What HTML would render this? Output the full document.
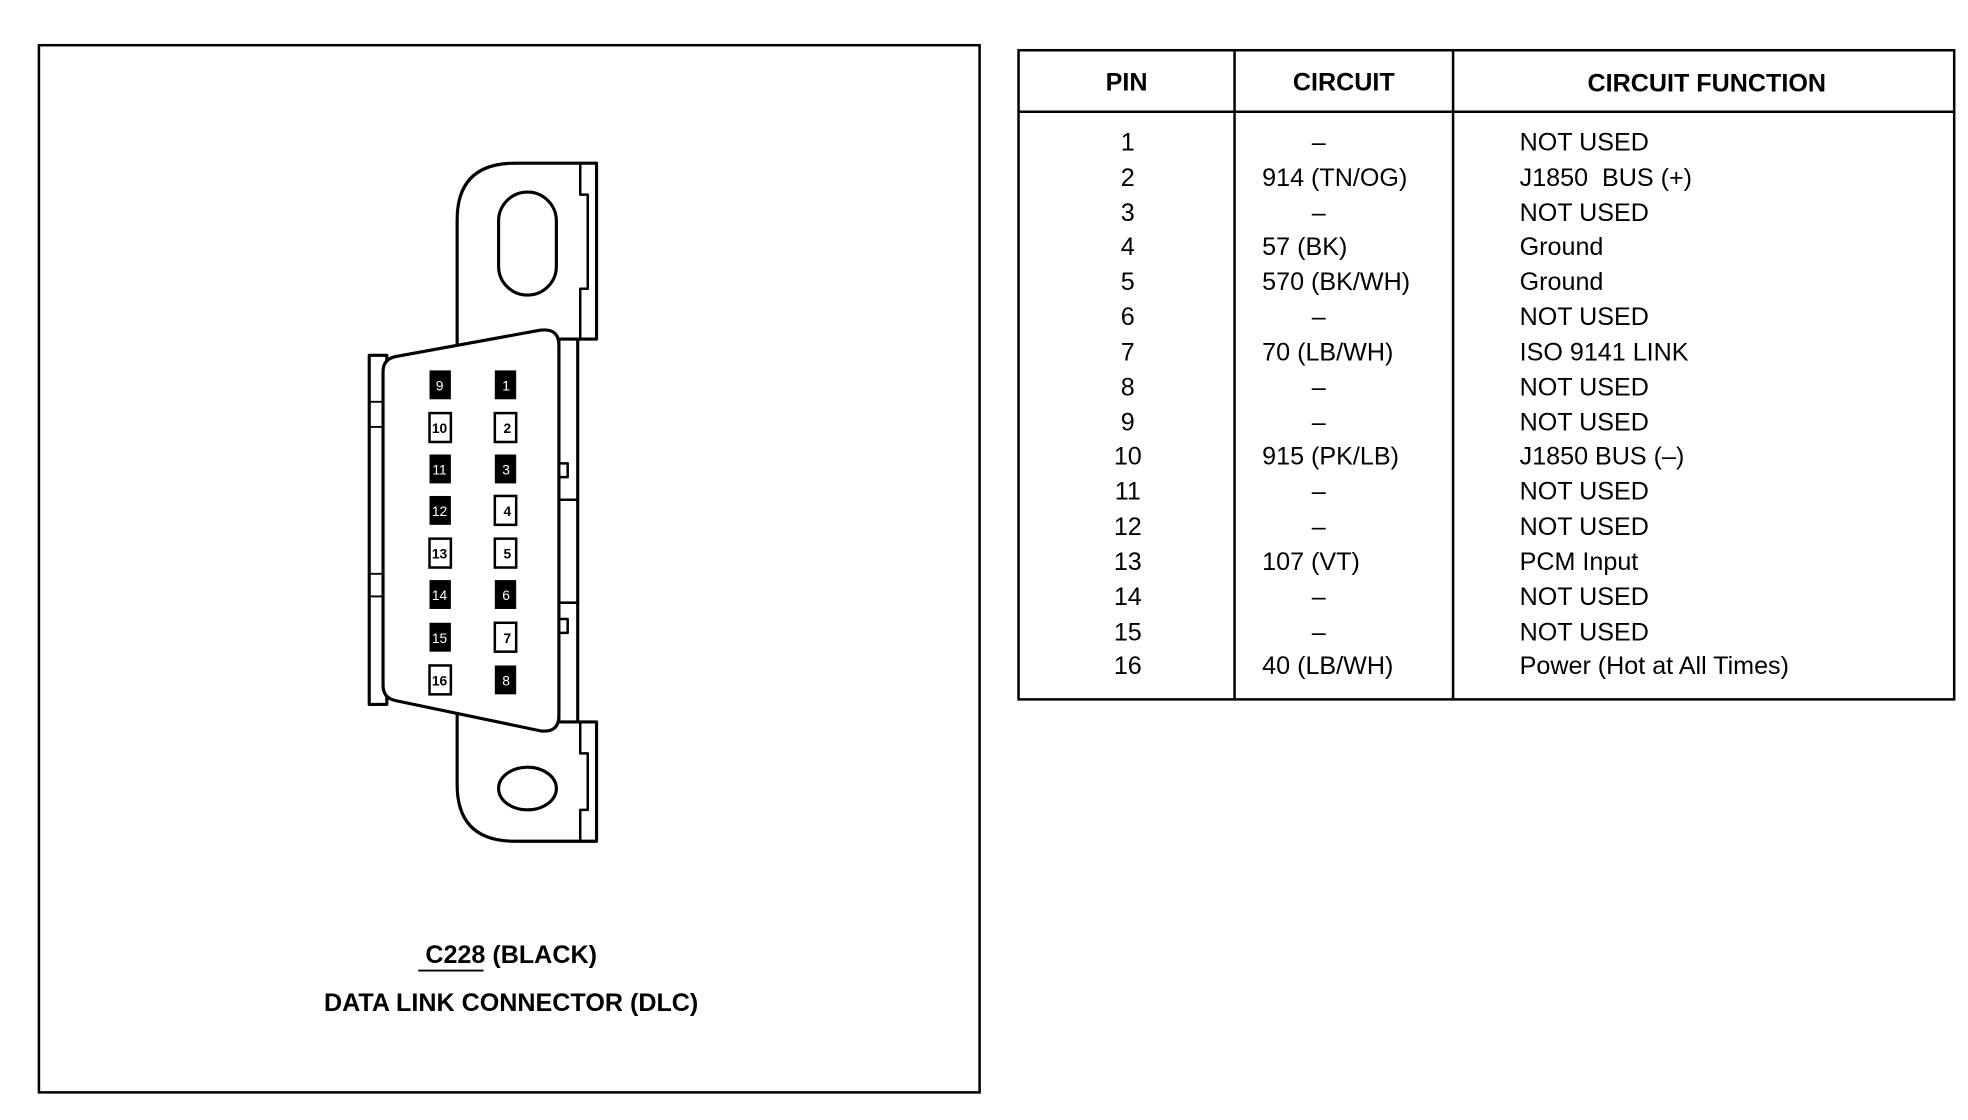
<!DOCTYPE html>
<html><head><meta charset="utf-8"><style>
html,body{margin:0;padding:0;background:#fff;}
svg{display:block;}
text{font-family:"Liberation Sans",Arial,sans-serif;fill:#000;}
</style></head><body>
<svg width="1968" height="1120" viewBox="0 0 1567 892" preserveAspectRatio="none" xmlns="http://www.w3.org/2000/svg">
<rect x="0" y="0" width="1567" height="892" fill="#fff"/>
<rect x="31" y="36" width="749" height="834" fill="none" stroke="#000" stroke-width="2"/>
<rect x="811" y="40" width="745" height="517" fill="none" stroke="#000" stroke-width="2"/>
<line x1="811" y1="89" x2="1556" y2="89" stroke="#000" stroke-width="2"/>
<line x1="983" y1="40" x2="983" y2="557" stroke="#000" stroke-width="2"/>
<line x1="1157" y1="40" x2="1157" y2="557" stroke="#000" stroke-width="2"/>
<g font-weight="bold" font-size="20" text-anchor="middle">
<text x="897" y="72">PIN</text>
<text x="1070" y="72">CIRCUIT</text>
<text x="1359" y="73">CIRCUIT FUNCTION</text>
</g>
<g font-size="20">
<g text-anchor="middle">
<text x="898" y="120">1</text><text x="898" y="148">2</text><text x="898" y="176">3</text><text x="898" y="203">4</text>
<text x="898" y="231">5</text><text x="898" y="259">6</text><text x="898" y="287">7</text><text x="898" y="315">8</text>
<text x="898" y="343">9</text><text x="898" y="370">10</text><text x="898" y="398">11</text><text x="898" y="426">12</text>
<text x="898" y="454">13</text><text x="898" y="482">14</text><text x="898" y="510">15</text><text x="898" y="537">16</text>
<text x="1050" y="120">–</text><text x="1050" y="176">–</text><text x="1050" y="259">–</text><text x="1050" y="315">–</text>
<text x="1050" y="343">–</text><text x="1050" y="398">–</text><text x="1050" y="426">–</text><text x="1050" y="482">–</text><text x="1050" y="510">–</text>
</g>
<text x="1005" y="148">914 (TN/OG)</text>
<text x="1005" y="203">57 (BK)</text>
<text x="1005" y="231">570 (BK/WH)</text>
<text x="1005" y="287">70 (LB/WH)</text>
<text x="1005" y="370">915 (PK/LB)</text>
<text x="1005" y="454">107 (VT)</text>
<text x="1005" y="537">40 (LB/WH)</text>
<text x="1210" y="120">NOT USED</text>
<text x="1210" y="148" xml:space="preserve">J1850  BUS (+)</text>
<text x="1210" y="176">NOT USED</text>
<text x="1210" y="203">Ground</text>
<text x="1210" y="231">Ground</text>
<text x="1210" y="259">NOT USED</text>
<text x="1210" y="287">ISO 9141 LINK</text>
<text x="1210" y="315">NOT USED</text>
<text x="1210" y="343">NOT USED</text>
<text x="1210" y="370">J1850 BUS (–)</text>
<text x="1210" y="398">NOT USED</text>
<text x="1210" y="426">NOT USED</text>
<text x="1210" y="454">PCM Input</text>
<text x="1210" y="482">NOT USED</text>
<text x="1210" y="510">NOT USED</text>
<text x="1210" y="537">Power (Hot at All Times)</text>
</g>
<g fill="#fff" stroke="#000" stroke-width="2.5" stroke-linejoin="round">
<path d="M364,285 L364,175 Q364,130 410,130 L475,130 L475,270 L445,270"/>
<path d="M462,130 L462,155 L468,155 L468,230 L462,230 L462,270" fill="none" stroke-width="2"/>
<rect x="397" y="153" width="46" height="82" rx="23" ry="23"/>
<path d="M364,565 L364,625 Q364,670 410,670 L475,670 L475,575 L445,575"/>
<path d="M462,670 L462,645 L468,645 L468,600 L462,600 L462,575" fill="none" stroke-width="2"/>
<ellipse cx="420" cy="628" rx="23" ry="17"/>
<rect x="294" y="283" width="14" height="278"/>
<rect x="445" y="270" width="15" height="305"/>
<line x1="445" y1="398" x2="460" y2="398" stroke-width="2"/>
<line x1="445" y1="480" x2="460" y2="480" stroke-width="2"/>
<rect x="445" y="369" width="7" height="11" stroke-width="2"/>
<rect x="445" y="493" width="7" height="11" stroke-width="2"/>
<line x1="295" y1="320" x2="305" y2="320" stroke-width="1.5"/>
<line x1="295" y1="340" x2="305" y2="340" stroke-width="1.5"/>
<line x1="295" y1="457" x2="305" y2="457" stroke-width="1.5"/>
<line x1="295" y1="475" x2="305" y2="475" stroke-width="1.5"/>
<path d="M315,284 L430,263 Q445,261 445,275 L445,570 Q445,584 430,582 L315,558 Q305,556 305,546 L305,296 Q305,286 315,284 Z"/>
</g>
<g font-size="11" text-anchor="middle">
<rect x="342" y="295" width="17" height="23" fill="#000"/><text x="350" y="311" style="fill:#fff">9</text>
<rect x="342" y="329" width="17" height="23" fill="#fff" stroke="#000" stroke-width="2"/><text x="350" y="345" font-weight="bold">10</text>
<rect x="342" y="362" width="17" height="23" fill="#000"/><text x="350" y="378" style="fill:#fff">11</text>
<rect x="342" y="395" width="17" height="23" fill="#000"/><text x="350" y="411" style="fill:#fff">12</text>
<rect x="342" y="429" width="17" height="23" fill="#fff" stroke="#000" stroke-width="2"/><text x="350" y="445" font-weight="bold">13</text>
<rect x="342" y="462" width="17" height="23" fill="#000"/><text x="350" y="478" style="fill:#fff">14</text>
<rect x="342" y="496" width="17" height="23" fill="#000"/><text x="350" y="512" style="fill:#fff">15</text>
<rect x="342" y="530" width="17" height="23" fill="#fff" stroke="#000" stroke-width="2"/><text x="350" y="546" font-weight="bold">16</text>
<rect x="394" y="295" width="17" height="23" fill="#000"/><text x="403" y="311" style="fill:#fff">1</text>
<rect x="394" y="329" width="17" height="23" fill="#fff" stroke="#000" stroke-width="2"/><text x="404" y="345" font-weight="bold">2</text>
<rect x="394" y="362" width="17" height="23" fill="#000"/><text x="403" y="378" style="fill:#fff">3</text>
<rect x="394" y="395" width="17" height="23" fill="#fff" stroke="#000" stroke-width="2"/><text x="404" y="411" font-weight="bold">4</text>
<rect x="394" y="429" width="17" height="23" fill="#fff" stroke="#000" stroke-width="2"/><text x="404" y="445" font-weight="bold">5</text>
<rect x="394" y="462" width="17" height="23" fill="#000"/><text x="403" y="478" style="fill:#fff">6</text>
<rect x="394" y="496" width="17" height="23" fill="#fff" stroke="#000" stroke-width="2"/><text x="404" y="512" font-weight="bold">7</text>
<rect x="394" y="530" width="17" height="23" fill="#000"/><text x="403" y="546" style="fill:#fff">8</text>
</g>
<g font-weight="bold" font-size="20" text-anchor="middle">
<text x="407" y="767">C228 (BLACK)</text>
<text x="407" y="805">DATA LINK CONNECTOR (DLC)</text>
</g>
<line x1="333" y1="773" x2="385" y2="773" stroke="#000" stroke-width="1.5"/>
</svg>
</body></html>
